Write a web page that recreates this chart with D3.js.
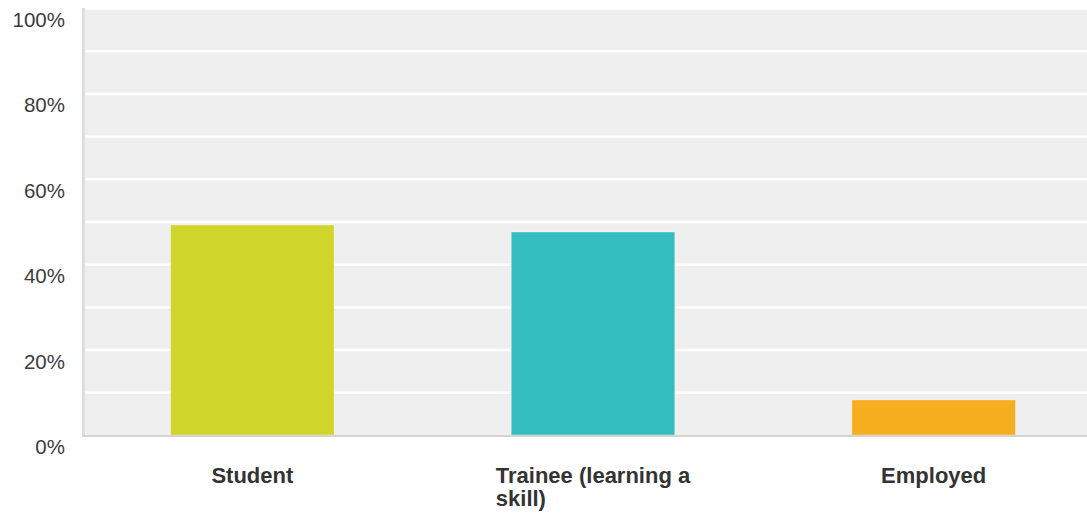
<!DOCTYPE html>
<html>
<head>
<meta charset="utf-8">
<script src="https://cdn.jsdelivr.net/npm/d3@7/dist/d3.min.js"></script>
<style>
  html, body { margin: 0; padding: 0; background: #fff; }
  svg { display: block; }
  text { font-family: "Liberation Sans", Arial, sans-serif; }
</style>
</head>
<body>
<svg id="chart" width="1087" height="513"></svg>
<script>
// Answer categories and share of respondents (%)
const categories = ["Student", "Trainee (learning a skill)", "Employed"];
const shares = [49.18, 47.54, 8.2];
const barColors = ["#cfd52a", "#33bdbf", "#f6ae1f"];
const labelTicks = [0, 20, 40, 60, 80, 100];
const gridTicks = [10, 20, 30, 40, 50, 60, 70, 80, 90, 100];

const svg = d3.select("#chart");
const plot = { left: 82, right: 1104, top: 8, bottom: 435 };

const x = d3.scaleBand()
  .domain(categories)
  .range([plot.left, plot.right])
  .paddingInner(0.52)
  .paddingOuter(0.26);

const y = d3.scaleLinear()
  .domain([0, 100])
  .range([plot.bottom, plot.top]);

// Panel background
svg.append("rect")
  .attr("x", plot.left).attr("y", plot.top)
  .attr("width", plot.right - plot.left)
  .attr("height", plot.bottom - plot.top)
  .attr("fill", "#efefef");

// Horizontal gridlines every 10%
const grid = svg.append("g")
  .attr("transform", `translate(${plot.left},0)`)
  .call(d3.axisLeft(y).tickValues(gridTicks).tickSize(-(plot.right - plot.left)).tickFormat(""));
grid.select(".domain").remove();
grid.selectAll(".tick line").attr("stroke", "#ffffff").attr("stroke-width", 2.5);

// Bars
svg.append("g").selectAll("rect")
  .data(categories)
  .join("rect")
  .attr("x", d => x(d))
  .attr("y", (d, i) => y(shares[i]))
  .attr("width", x.bandwidth())
  .attr("height", (d, i) => y(0) - y(shares[i]))
  .attr("fill", (d, i) => barColors[i])
  .attr("stroke", "rgba(255,255,255,0.35)")
  .attr("stroke-width", 1);

// Left and bottom panel edges
svg.append("line")
  .attr("x1", plot.left + 1.5).attr("x2", plot.left + 1.5)
  .attr("y1", plot.top).attr("y2", plot.bottom + 2)
  .attr("stroke", "#dedede").attr("stroke-width", 3);
svg.append("line")
  .attr("x1", plot.left).attr("x2", plot.right)
  .attr("y1", plot.bottom + 1).attr("y2", plot.bottom + 1)
  .attr("stroke", "#d3d3d3").attr("stroke-width", 2);

// Y axis labels
const yAxis = svg.append("g")
  .attr("transform", `translate(${plot.left},0)`)
  .call(d3.axisLeft(y).tickValues(labelTicks).tickSize(0).tickPadding(17).tickFormat(d => d + "%"));
yAxis.select(".domain").remove();
yAxis.selectAll(".tick text")
  .attr("font-size", 20.5)
  .attr("fill", "#3c3c3c")
  .attr("dy", "18.5")
  .attr("font-family", "'Liberation Sans', Arial, sans-serif");

// X axis labels, wrapped with left-aligned lines centred under each bar
const xAxis = svg.append("g")
  .attr("transform", `translate(0,${plot.bottom})`)
  .call(d3.axisBottom(x).tickSize(0).tickFormat(""));
xAxis.select(".domain").remove();

const maxLabelWidth = 215;
const lineHeight = 23;
const labels = svg.append("g");
categories.forEach(cat => {
  const cx = x(cat) + x.bandwidth() / 2;
  const t = labels.append("text")
    .attr("font-size", 22)
    .attr("font-weight", "bold")
    .attr("fill", "#333");
  const words = cat.split(" ");
  const lines = [];
  let cur = [];
  const probe = t.append("tspan");
  words.forEach(w => {
    const trial = cur.concat([w]).join(" ");
    probe.text(trial);
    if (probe.node().getComputedTextLength() > maxLabelWidth && cur.length) {
      lines.push(cur.join(" "));
      cur = [w];
    } else {
      cur.push(w);
    }
  });
  lines.push(cur.join(" "));
  probe.remove();
  // widest line decides the block's left edge
  let widest = 0;
  lines.forEach(l => {
    const m = t.append("tspan").text(l);
    widest = Math.max(widest, m.node().getComputedTextLength());
    m.remove();
  });
  const left = cx - widest / 2;
  lines.forEach((l, i) => {
    t.append("tspan")
      .attr("x", left)
      .attr("y", 483 + i * lineHeight)
      .text(l);
  });
});
</script>
</body>
</html>
